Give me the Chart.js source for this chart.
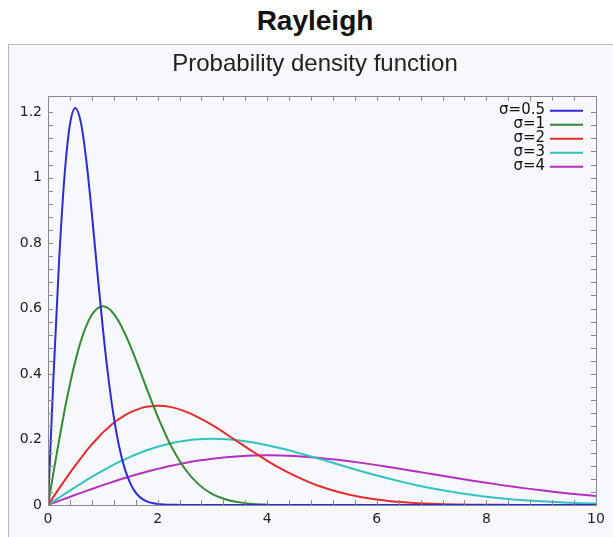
<!DOCTYPE html>
<html>
<head>
<meta charset="utf-8">
<script src="https://cdn.jsdelivr.net/npm/chart.js@4"></script>
<style>
  html, body { margin: 0; padding: 0; background: #fff; overflow: hidden; }
  #head {
    position: absolute; left: 8px; top: 0; width: 614px; height: 44px;
    text-align: center; font: bold 28px "Liberation Sans", Arial, sans-serif;
    line-height: 42px; color: #111;
  }
  #box {
    position: absolute; left: 8px; top: 44px; width: 614px; height: 520px;
    border: 1px solid #b5b9bd; background: #f6f8fb;
  }
  #wrap { position: absolute; left: 0; top: 0; width: 612px; height: 492px; }
</style>
</head>
<body>
<div id="head">Rayleigh</div>
<div id="box"><div id="wrap"><canvas id="pdf-chart"></canvas></div></div>
<script>
const xs = [0, 0.1, 0.2, 0.3, 0.4, 0.5, 0.6, 0.7, 0.8, 0.9, 1.0, 1.1, 1.2, 1.3, 1.4, 1.5, 1.6, 1.7, 1.8, 1.9, 2.0,
  2.25, 2.5, 2.75, 3.0, 3.25, 3.5, 3.75, 4.0, 4.25, 4.5, 4.75, 5.0, 5.25, 5.5, 5.75, 6.0, 6.25, 6.5, 6.75, 7.0,
  7.25, 7.5, 7.75, 8.0, 8.25, 8.5, 8.75, 9.0, 9.25, 9.5, 9.75, 10];

const sigmaLabels = ['σ=0.5', 'σ=1', 'σ=2', 'σ=3', 'σ=4'];
const sigmaColors = ['#2b2bdc', '#338a33', '#e52b2b', '#33c2c2', '#b52fc0'];

const pdfSigma05 = [0, 0.392, 0.738, 1.002, 1.162, 1.213, 1.168, 1.051, 0.890, 0.712, 0.541, 0.391, 0.270, 0.177, 0.111, 0.067, 0.038, 0.021, 0.011, 0.006, 0.003,
  0.0004, 0, 0, 0, 0, 0, 0, 0, 0, 0, 0, 0, 0, 0, 0, 0, 0, 0, 0, 0, 0, 0, 0, 0, 0, 0, 0, 0, 0, 0, 0, 0];
const pdfSigma1 = [0, 0.0995, 0.196, 0.287, 0.369, 0.441, 0.501, 0.548, 0.581, 0.600, 0.607, 0.601, 0.584, 0.558, 0.525, 0.487, 0.445, 0.401, 0.356, 0.313, 0.271,
  0.179, 0.110, 0.063, 0.033, 0.017, 0.008, 0.003, 0.001, 0, 0, 0, 0, 0, 0, 0, 0, 0, 0, 0, 0, 0, 0, 0, 0, 0, 0, 0, 0, 0, 0, 0, 0];
const pdfSigma2 = [0, 0.025, 0.050, 0.074, 0.098, 0.121, 0.143, 0.165, 0.185, 0.203, 0.221, 0.236, 0.251, 0.263, 0.274, 0.283, 0.290, 0.296, 0.300, 0.302, 0.303,
  0.299, 0.286, 0.267, 0.244, 0.217, 0.189, 0.162, 0.135, 0.111, 0.0895, 0.0708, 0.0549, 0.0419, 0.0313, 0.0231, 0.0167, 0.0118, 0.0083, 0.0057, 0.0038,
  0.0025, 0.0017, 0.0011, 0.0007, 0.0004, 0.0003, 0.0002, 0.0001, 0.0001, 0, 0, 0];
const pdfSigma3 = [0, 0.0111, 0.0222, 0.0332, 0.0441, 0.0548, 0.0654, 0.0757, 0.0858, 0.0956, 0.1051, 0.1143, 0.1231, 0.1315, 0.1395, 0.1471, 0.1542, 0.1609, 0.1671, 0.1727, 0.1779,
  0.1887, 0.1963, 0.2008, 0.2022, 0.2008, 0.1969, 0.1908, 0.1827, 0.1731, 0.1623, 0.1507, 0.1386, 0.1262, 0.1138, 0.1018, 0.0902, 0.0793, 0.0691, 0.0597, 0.0511,
  0.0434, 0.0366, 0.0306, 0.0254, 0.0209, 0.0171, 0.0138, 0.0111, 0.0089, 0.0070, 0.0055, 0.0043];
const pdfSigma4 = [0, 0.0063, 0.0125, 0.0187, 0.0249, 0.0310, 0.0371, 0.0431, 0.0490, 0.0548, 0.0606, 0.0662, 0.0717, 0.0771, 0.0823, 0.0874, 0.0923, 0.0971, 0.1017, 0.1061, 0.1103,
  0.1201, 0.1285, 0.1357, 0.1415, 0.1460, 0.1492, 0.1510, 0.1516, 0.1510, 0.1494, 0.1467, 0.1431, 0.1387, 0.1336, 0.1279, 0.1218, 0.1152, 0.1085, 0.1016, 0.0946,
  0.0877, 0.0808, 0.0741, 0.0677, 0.0615, 0.0556, 0.0500, 0.0448, 0.0399, 0.0354, 0.0312, 0.0275];

const seriesValues = [pdfSigma05, pdfSigma1, pdfSigma2, pdfSigma3, pdfSigma4];

const tickFont = { family: '"DejaVu Sans", sans-serif', size: 14 };

// frame, inward ticks on all four sides, and the legend in the top right corner
const framePlugin = {
  id: 'frame',
  afterDatasetsDraw(chart) {
    const { ctx, chartArea: a, scales } = chart;
    ctx.save();
    ctx.strokeStyle = '#8a8a8a';
    ctx.lineWidth = 1;
    ctx.beginPath();
    scales.x.ticks.forEach(t => {
      const px = Math.round(scales.x.getPixelForValue(t.value)) + 0.5;
      ctx.moveTo(px, a.bottom); ctx.lineTo(px, a.bottom - 5);
      ctx.moveTo(px, a.top); ctx.lineTo(px, a.top + 5);
    });
    scales.y.ticks.forEach(t => {
      const py = Math.round(scales.y.getPixelForValue(t.value)) + 0.5;
      ctx.moveTo(a.left, py); ctx.lineTo(a.left + 5, py);
      ctx.moveTo(a.right, py); ctx.lineTo(a.right - 5, py);
    });
    ctx.stroke();
    ctx.strokeRect(Math.round(a.left) + 0.5, Math.round(a.top) + 0.5,
      Math.round(a.right - a.left), Math.round(a.bottom - a.top));

    // legend
    ctx.font = '15px "DejaVu Sans", sans-serif';
    ctx.textAlign = 'right';
    ctx.textBaseline = 'middle';
    chart.data.datasets.forEach((ds, i) => {
      const y = a.top + 14 + i * 14;
      ctx.fillStyle = '#111';
      ctx.fillText(ds.label, a.right - 51, y);
      ctx.strokeStyle = ds.borderColor;
      ctx.lineWidth = 2;
      ctx.beginPath();
      ctx.moveTo(a.right - 46, y + 1);
      ctx.lineTo(a.right - 13, y + 1);
      ctx.stroke();
    });
    ctx.restore();
  }
};

new Chart(document.getElementById('pdf-chart'), {
  type: 'line',
  data: {
    datasets: seriesValues.map((vals, i) => ({
      label: sigmaLabels[i],
      data: xs.map((x, j) => ({ x: x, y: vals[j] })),
      borderColor: sigmaColors[i],
      backgroundColor: sigmaColors[i],
      borderWidth: 2,
      pointRadius: 0,
      fill: false,
      cubicInterpolationMode: 'monotone'
    }))
  },
  options: {
    responsive: true,
    maintainAspectRatio: false,
    animation: false,
    layout: { padding: 0 },
    plugins: {
      legend: { display: false },
      tooltip: { enabled: false },
      title: {
        display: true,
        text: 'Probability density function',
        color: '#222',
        font: { family: '"Liberation Sans", Arial, sans-serif', size: 24, weight: 'normal' },
        padding: { top: 5, bottom: 17 }
      }
    },
    scales: {
      x: {
        type: 'linear',
        min: 0,
        max: 10,
        afterFit: s => { s.height = 32; },
        grid: { display: false, drawTicks: false },
        border: { display: false },
        ticks: {
          stepSize: 0.4,
          autoSkip: false,
          maxRotation: 0,
          padding: 6,
          color: '#222',
          font: tickFont,
          callback: v => (Math.round(v * 10) % 20 === 0 ? String(Math.round(v)) : '')
        }
      },
      y: {
        min: 0,
        max: 1.25,
        afterFit: s => { s.width = 39; },
        grid: { display: false, drawTicks: false },
        border: { display: false },
        ticks: {
          stepSize: 0.04,
          autoSkip: false,
          padding: 6,
          color: '#222',
          font: tickFont,
          callback: v => {
            const k = Math.round(v * 100);
            return k % 20 === 0 ? String(k / 100) : '';
          }
        }
      },
      // empty right-hand axis, only keeps the margin right of the plot
      yRight: {
        position: 'right',
        min: 0,
        max: 1.25,
        afterFit: s => { s.width = 25; },
        grid: { display: false, drawTicks: false },
        border: { display: false },
        ticks: { display: false }
      }
    }
  },
  plugins: [framePlugin]
});
</script>
</body>
</html>
